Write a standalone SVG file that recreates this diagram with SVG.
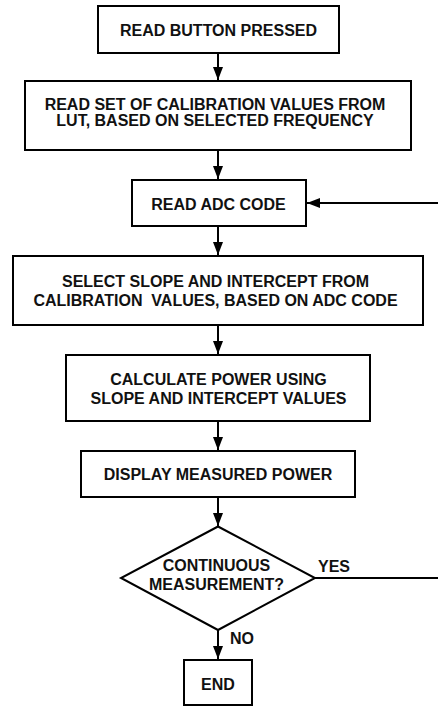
<svg xmlns="http://www.w3.org/2000/svg" width="438" height="706" viewBox="0 0 438 706">
<style>
.box{fill:#fff;stroke:#000;stroke-width:2}
.t{font-family:"Liberation Sans",Arial,sans-serif;font-weight:bold;font-size:16px;fill:#111;text-anchor:middle}
.l{font-family:"Liberation Sans",Arial,sans-serif;font-weight:bold;font-size:16px;fill:#111}
.c{stroke:#000;stroke-width:2;fill:none}
</style>
<defs>
<marker id="ah" viewBox="0 0 13 10" refX="13" refY="5" markerWidth="13" markerHeight="10" markerUnits="userSpaceOnUse" orient="auto">
<path d="M0,0 L13,5 L0,10 Z" fill="#000"/>
</marker>
</defs>
<rect width="438" height="706" fill="#fff"/>
<g id="connectors">
<line class="c" x1="218" y1="53" x2="218" y2="80" marker-end="url(#ah)"/>
<line class="c" x1="218" y1="150" x2="218" y2="179" marker-end="url(#ah)"/>
<line class="c" x1="218" y1="226" x2="218" y2="255" marker-end="url(#ah)"/>
<line class="c" x1="218" y1="325" x2="218" y2="354" marker-end="url(#ah)"/>
<line class="c" x1="218" y1="421" x2="218" y2="450" marker-end="url(#ah)"/>
<line class="c" x1="218" y1="497" x2="218" y2="526" marker-end="url(#ah)"/>
<line class="c" x1="218" y1="630" x2="218" y2="659" marker-end="url(#ah)"/>
<line class="c" x1="438" y1="203" x2="307" y2="203" marker-end="url(#ah)"/>
<line class="c" x1="315" y1="578" x2="438" y2="578"/>
<text class="l" x="318" y="572">YES</text>
<text class="l" x="230" y="643.5">NO</text>
</g>
<g id="n1">
<rect class="box" x="98" y="6" width="241" height="47"/>
<text class="t" x="218.5" y="36">READ BUTTON PRESSED</text>
</g>
<g id="n2">
<rect class="box" x="25" y="81" width="386" height="69"/>
<text class="t" x="215" y="110">READ SET OF CALIBRATION VALUES FROM</text>
<text class="t" x="215" y="126">LUT, BASED ON SELECTED FREQUENCY</text>
</g>
<g id="n3">
<rect class="box" x="132" y="180" width="174" height="46"/>
<text class="t" x="218.5" y="210">READ ADC CODE</text>
</g>
<g id="n4">
<rect class="box" x="13" y="256" width="410" height="69"/>
<text class="t" x="215.5" y="286.5">SELECT SLOPE AND INTERCEPT FROM</text>
<text class="t" x="215.5" y="305.5" xml:space="preserve">CALIBRATION  VALUES, BASED ON ADC CODE</text>
</g>
<g id="n5">
<rect class="box" x="66" y="355" width="304" height="66"/>
<text class="t" x="218.5" y="384.5">CALCULATE POWER USING</text>
<text class="t" x="218.5" y="404">SLOPE AND INTERCEPT VALUES</text>
</g>
<g id="n6">
<rect class="box" x="81" y="451" width="274" height="46"/>
<text class="t" x="218" y="480">DISPLAY MEASURED POWER</text>
</g>
<g id="n7">
<polygon class="box" points="218,526.5 315,578 218,630 121,578"/>
<text class="t" x="216.5" y="570.5">CONTINUOUS</text>
<text class="t" x="216.5" y="589.5">MEASUREMENT?</text>
</g>
<g id="n8">
<rect class="box" x="184" y="660" width="68" height="45"/>
<text class="t" x="218" y="689.5">END</text>
</g>
</svg>
